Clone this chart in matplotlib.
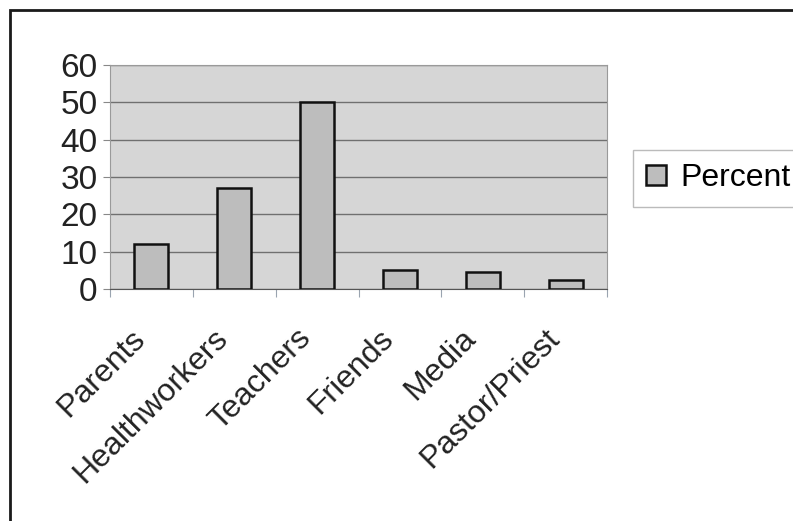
import matplotlib.pyplot as plt
from matplotlib.patches import Rectangle

# --- Data ---
categories = ['Parents', 'Healthworkers', 'Teachers', 'Friends', 'Media', 'Pastor/Priest']
percent = [12, 27, 50, 5, 4.5, 2.4]
yticks = [0, 10, 20, 30, 40, 50, 60]

plt.rcParams['font.family'] = ['Liberation Sans', 'DejaVu Sans']

W, H = 793, 521
fig = plt.figure(figsize=(W / 100, H / 100), dpi=100)
fig.patch.set_facecolor('white')

# outer chart frame (cut off on right/bottom like the scan)
fig.patches.append(Rectangle((10 / W, -0.1), 1.2, 1 - 10 / H + 0.1,
                             transform=fig.transFigure, fill=False,
                             edgecolor='#1a1a1a', linewidth=2))

ax = fig.add_axes([110 / W, 1 - 289 / H, 497 / W, 224 / H])
ax.set_facecolor('#d6d6d6')
x = range(len(categories))
bars = ax.bar(x, percent, width=0.41, color='#bdbdbd', edgecolor='#111111',
              linewidth=1.8, label='Percent', zorder=3)

ax.set_xlim(-0.5, len(categories) - 0.5)
ax.set_ylim(0, 60)
ax.set_yticks(yticks)
ax.set_yticklabels([str(v) for v in yticks], fontsize=24, color='#222222')
ax.yaxis.grid(True, color='#707070', linewidth=1, zorder=1)
ax.set_axisbelow(True)

# category ticks at boundaries, labels centred under bars
ax.set_xticks([i - 0.5 for i in range(len(categories) + 1)])
ax.set_xticklabels([''] * (len(categories) + 1))
ax.tick_params(axis='x', length=6, color='#9aa4b0', direction='out')
ax.tick_params(axis='y', length=5, color='#888888', direction='out', pad=4)
for i, name in enumerate(categories):
    ax.text(i - 0.26, -9.2, name, rotation=45, ha='right', va='top',
            rotation_mode='anchor', fontsize=23, color='#222222',
            transform=ax.transData)

for side in ['top', 'right', 'left']:
    ax.spines[side].set_color('#9a9a9a')
ax.spines['bottom'].set_color('#555555')

leg = fig.legend(handles=[bars], labels=['Percent'], loc='upper left',
                 bbox_to_anchor=(633 / W, 1 - 150 / H), borderaxespad=0,
                 fontsize=23, frameon=True, fancybox=False, handlelength=0.6,
                 handleheight=0.6, handletextpad=0.45, borderpad=0.42)
leg.get_frame().set_edgecolor('#aaaaaa')
leg.get_frame().set_linewidth(1)

fig.savefig('out.png', dpi=100)
